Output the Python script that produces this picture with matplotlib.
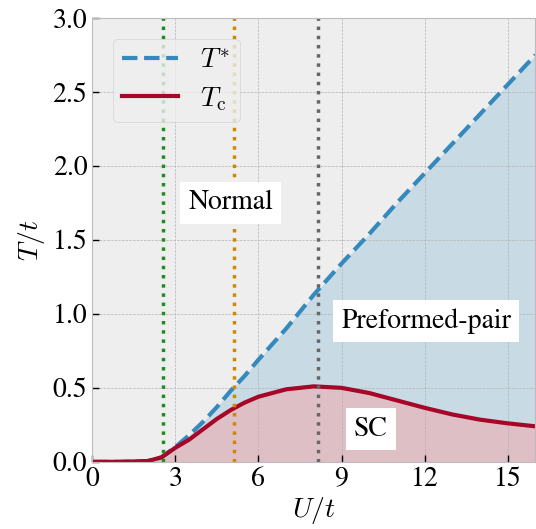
import numpy as np
import matplotlib
matplotlib.use("Agg")
import matplotlib.pyplot as plt

plt.style.use("bmh")
plt.rcParams["font.family"] = ["STIXGeneral", "DejaVu Serif"]
plt.rcParams["mathtext.fontset"] = "cm"

# values
U = [0, 1, 2, 2.5, 3, 3.5, 4, 4.5, 5, 5.5, 6, 7, 8, 9, 10, 11, 12, 13, 14, 15, 16]
T_star = [0, 0, 0.005, 0.03, 0.1, 0.18, 0.27, 0.37, 0.48, 0.58, 0.69, 0.9, 1.13,
          1.34, 1.54, 1.75, 1.95, 2.15, 2.35, 2.55, 2.75]
T_c = [0, 0, 0.005, 0.03, 0.095, 0.15, 0.22, 0.29, 0.35, 0.4, 0.44, 0.49, 0.51,
       0.5, 0.465, 0.415, 0.365, 0.32, 0.285, 0.26, 0.24]
U_marks = [2.56, 5.13, 8.16]
mark_colors = ["#228B22", "#CC8800", "#666666"]

fig = plt.figure(figsize=(5.36, 5.29), dpi=100)
ax = fig.add_axes([0.172, 0.127, 0.827, 0.839])

ax.fill_between(U, T_c, T_star, color="#348ABD", alpha=0.2, lw=0)
ax.fill_between(U, 0, T_c, color="#A60628", alpha=0.2, lw=0)
ax.plot(U, T_star, "--", color="#348ABD", lw=3, label=r"$T^{*}$")
ax.plot(U, T_c, "-", color="#A60628", lw=3, label=r"$T_{\mathrm{c}}$")

for u, c in zip(U_marks, mark_colors):
    ax.axvline(u, color=c, ls=":", lw=2.5)

box = dict(facecolor="white", edgecolor="none", pad=6)
ax.text(5.0, 1.75, "Normal", fontsize=20, ha="center", va="center", bbox=box)
ax.text(12.05, 0.95, "Preformed-pair", fontsize=20, ha="center", va="center", bbox=box)
ax.text(10.07, 0.22, "SC", fontsize=20, ha="center", va="center", bbox=box)

ax.set_xlim(0, 16)
ax.set_ylim(0, 3)
ax.set_xticks([0, 3, 6, 9, 12, 15])
ax.set_yticks(np.arange(0, 3.01, 0.5))
ax.tick_params(direction="in", labelsize=20, length=5, width=1, color="black")
ax.set_xlabel(r"$U/t$", fontsize=20, labelpad=2)
ax.set_ylabel(r"$T/t$", fontsize=20)
ax.legend(loc="upper left", fontsize=20, bbox_to_anchor=(0.015, 0.985),
          borderpad=0.35, labelspacing=0.4)

fig.savefig("out.png", dpi=100)
